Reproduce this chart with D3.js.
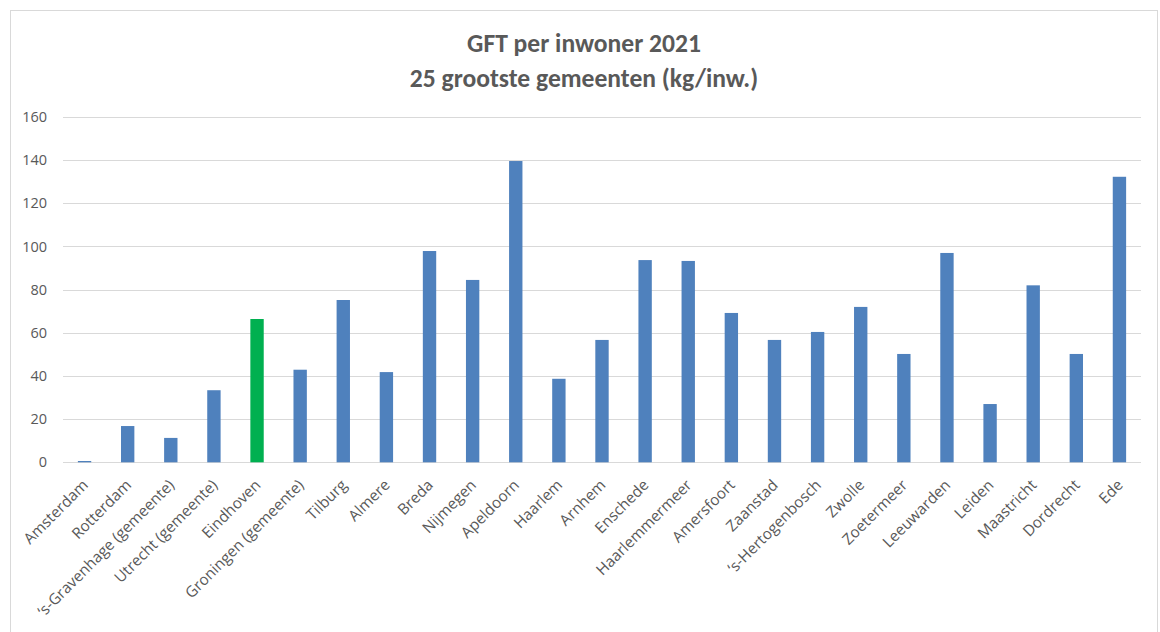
<!DOCTYPE html>
<html><head><meta charset="utf-8">
<script src="https://cdn.jsdelivr.net/npm/d3@7"></script>
<style>
body{margin:0;background:#fff;}
svg{display:block;font-family:"Open Sans",sans-serif;}
</style></head>
<body><svg id="c" width="1160" height="632"></svg>
<script>
const categories = ["Amsterdam","Rotterdam","\u2018s-Gravenhage (gemeente)","Utrecht (gemeente)","Eindhoven","Groningen (gemeente)","Tilburg","Almere","Breda","Nijmegen","Apeldoorn","Haarlem","Arnhem","Enschede","Haarlemmermeer","Amersfoort","Zaanstad","\u2018s-Hertogenbosch","Zwolle","Zoetermeer","Leeuwarden","Leiden","Maastricht","Dordrecht","Ede"];
const values = [0.6,16.8,11.3,33.4,66.4,42.9,75.2,41.8,97.9,84.5,139.6,38.7,56.7,93.7,93.3,69.2,56.7,60.4,72.0,50.2,97.0,27.0,82.0,50.2,132.3];
const highlight = ["Eindhoven"];
const yTicks = [0,20,40,60,80,100,120,140,160];
const titleLines = ["GFT per inwoner 2021","25 grootste gemeenten (kg/inw.)"];

const svg = d3.select("#c");
svg.append("rect").attr("x",10.5).attr("y",10.5).attr("width",1147).attr("height",640)
  .attr("fill","#fff").attr("stroke","#D9D9D9");

const pLeft=63,pRight=1141,pTop=117,pBottom=462.3;
const x = d3.scaleBand().domain(categories).range([pLeft,pRight]).paddingInner(0.69).paddingOuter(0.345);
const y = d3.scaleLinear().domain([0,160]).range([pBottom,pTop]);

const g = svg.append("g");
g.selectAll("line.grid").data(yTicks).join("line").attr("class","grid")
  .attr("x1",pLeft).attr("x2",pRight).attr("y1",d=>Math.round(y(d))+0.5).attr("y2",d=>Math.round(y(d))+0.5)
  .attr("stroke","#D9D9D9").attr("stroke-width",1);

g.selectAll("text.yl").data(yTicks).join("text").attr("class","yl")
  .attr("x",47).attr("y",d=>y(d)).attr("dy","0.35em").attr("text-anchor","end")
  .attr("fill","#595959").attr("font-size",14.5).text(d=>d);

g.selectAll("rect.bar").data(categories).join("rect").attr("class","bar")
  .attr("x",d=>x(d)).attr("width",x.bandwidth())
  .attr("y",(d,i)=>y(values[i])).attr("height",(d,i)=>y(0)-y(values[i]))
  .attr("fill",d=>highlight.includes(d)?"#00B050":"#4F81BD");

g.selectAll("text.xl").data(categories).join("text").attr("class","xl")
  .attr("transform",d=>`translate(${x(d)+x.bandwidth()/2+4.5},${486}) rotate(-45)`)
  .attr("text-anchor","end").attr("fill","#595959").attr("font-size",15.3).text(d=>d);

svg.selectAll("text.title").data(titleLines).join("text").attr("class","title")
  .attr("x",584).attr("y",(d,i)=>52+i*35).attr("text-anchor","middle")
  .attr("font-family","Carlito,Calibri,Lato,sans-serif")
  .attr("fill","#595959").attr("font-weight","bold").attr("font-size",25.6).text(d=>d);
</script></body></html>
